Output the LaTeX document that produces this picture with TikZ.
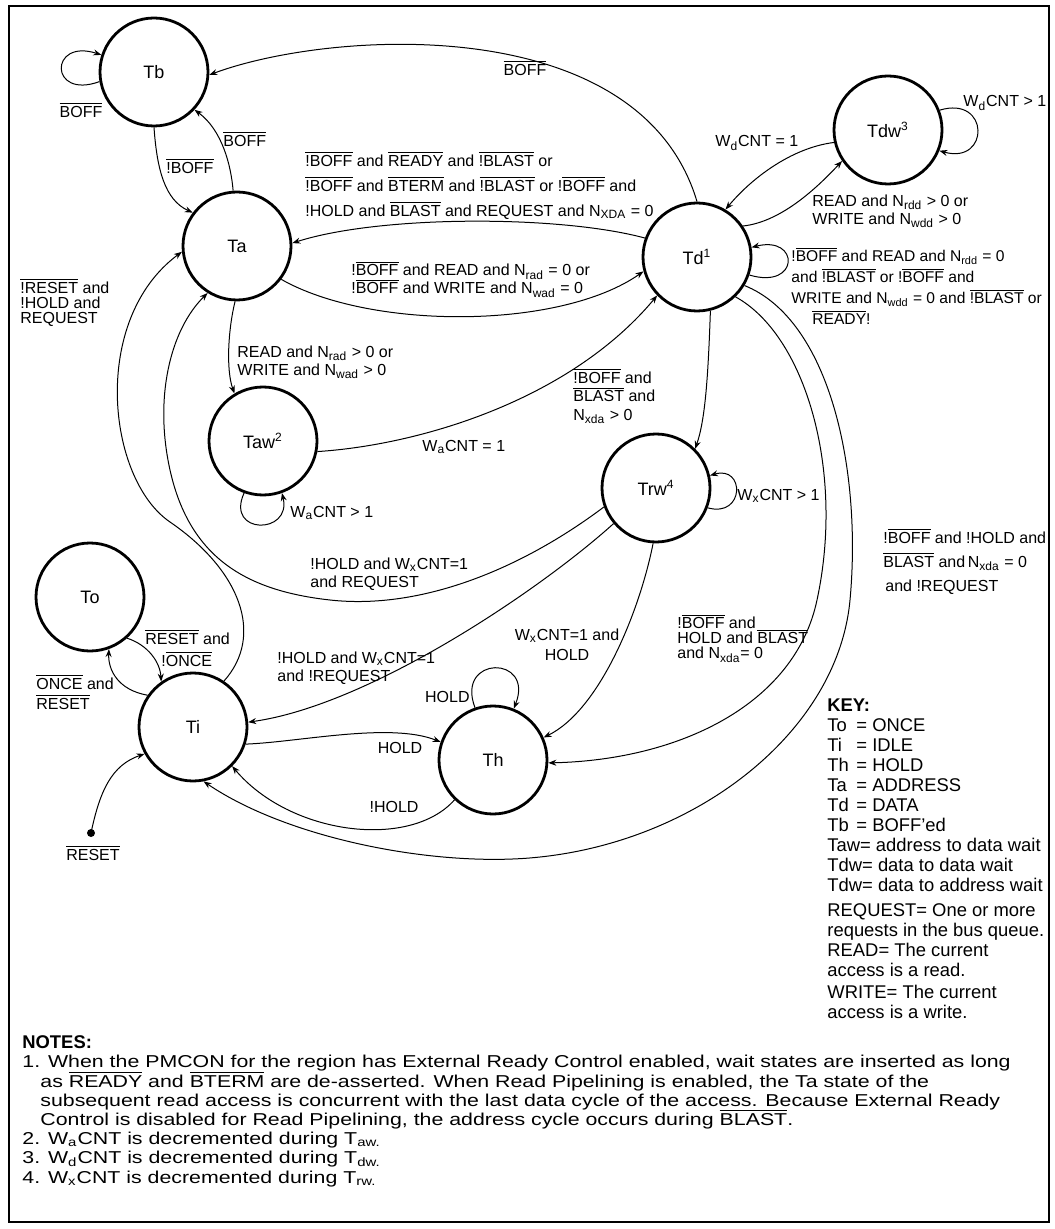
\documentclass[tikz,border=0pt]{standalone}
\usepackage{fontspec}
\setmainfont{Liberation Sans}
\newfontfamily\widefont{Liberation Sans}[FakeStretch=1.24]
\usetikzlibrary{arrows.meta}
\lineskiplimit=-20pt
\newcommand{\ol}[1]{$\overline{\mbox{#1}}$}
\newcommand{\kb}[1]{\makebox[14.5pt][l]{#1}}

\begin{document}
\begin{tikzpicture}[x=0.5pt, y=-0.5pt,
    state/.style={circle, draw, line width=1.4pt, minimum size=54pt, inner sep=0pt, font=\fontsize{9}{10}\selectfont},
    tr/.style={-{Stealth[length=4pt,width=3pt]}, line width=0.5pt},
    lbl/.style={inner sep=0pt, align=left, font=\fontsize{8}{9}\selectfont}]
    \useasboundingbox (0,0) rectangle (1054,1229);
    \draw[line width=1pt] (9,6) rectangle (1049,1222);

    % States
    \node[state] (Tb) at (154,72) {Tb};
    \node[state] (Ta) at (237,246) {Ta};
    \node[state] (Td) at (697,257) {Td\textsuperscript{1}};
    \node[state] (Tdw) at (888,130) {Tdw\textsuperscript{3}};
    \node[state] (Taw) at (263,441) {Taw\textsuperscript{2}};
    \node[state] (Trw) at (656,488) {Trw\textsuperscript{4}};
    \node[state] (To) at (90,597) {To};
    \node[state] (Ti) at (193,727) {Ti};
    \node[state] (Th) at (493,760) {Th};
    \coordinate (rst) at (91,833);
    \fill (rst) circle[radius=2pt];

    % Transitions around Tb and Ta
    \draw[tr] (Tb.190) .. controls (49,100) and (49,38) .. (Tb.162);
    \draw[tr] (Td.90) .. controls (640,10) and (330,30) .. (Tb.-3);
    \draw[tr] (Tb.270) .. controls (157,170) and (165,200) .. (Ta.143);
    \draw[tr] (Ta.94) .. controls (231,165) and (222,130) .. (Tb.-43);
    \draw[tr] (Td.160) .. controls (560,215) and (380,215) .. (Ta.3);
    \draw[tr] (Ta.-37) .. controls (370,330) and (560,330) .. (Td.195);
    \draw[tr] (Ta.-92) .. controls (228,330) and (226,370) .. (Taw.121);
    \draw[tr] (Taw.250) .. controls (225,535) and (292,535) .. (Taw.290);
    \draw[tr] (Taw.-11) .. controls (420,445) and (570,400) .. (Td.224);

    % Transitions around Td
    \draw[tr] (Tdw.193) .. controls (790,148) and (750,180) .. (Td.59);
    \draw[tr] (Td.34) .. controls (780,222) and (815,190) .. (Tdw.214);
    \draw[tr] (Tdw.21) .. controls (990,95) and (990,165) .. (Tdw.-22);
    \draw[tr] (Td.-19) .. controls (800,290) and (800,235) .. (Td.10);
    \draw[tr] (Td.-76) .. controls (708,380) and (705,420) .. (Trw.45);
    \draw[tr] (Trw.-21) .. controls (745,518) and (745,465) .. (Trw.13);
    \draw[tr] (Td.-46) .. controls (805,335) and (845,470) .. (817,600)
        .. controls (795,704) and (680,760) .. (Th.-3);
    \draw[tr] (Td.-31) .. controls (830,320) and (862,470) .. (850,600)
        .. controls (838,730) and (700,840) .. (540,857)
        .. controls (440,868) and (290,840) .. (Ti.-79);

    % Transitions back to Ta, Ti and Th
    \draw[tr] (Trw.200) .. controls (520,570) and (420,610) .. (330,600)
        .. controls (249,591) and (190,560) .. (170,470)
        .. controls (154,398) and (170,330) .. (Ta.238);
    \draw[tr] (Ti.56) .. controls (265,635) and (240,570) .. (170,522)
        .. controls (107,479) and (90,320) .. (Ta.186);
    \draw[tr] (Trw.220) .. controls (540,590) and (370,705) .. (Ti.5);
    \draw[tr] (Trw.267) .. controls (640,610) and (600,710) .. (Th.24);
    \draw[tr] (Ti.-18) .. controls (300,742) and (390,722) .. (Th.161);
    \draw[tr] (Th.109) .. controls (455,655) and (535,655) .. (Th.68);
    \draw[tr] (Th.226) .. controls (410,850) and (290,835) .. (Ti.-45);
    \draw[tr] (Ti.145) .. controls (118,690) and (108,670) .. (To.-70);
    \draw[tr] (To.-48) .. controls (148,645) and (160,662) .. (Ti.125);
    \draw[tr] (rst) .. controls (100,790) and (112,765) .. (Ti.209);

    % Labels
    \node[lbl] (lTbLoop) at (81,110) {\ol{BOFF}};
    \node[lbl] (lTdTb) at (525,68) {\ol{BOFF}};
    \node[lbl, anchor=west] (lTbTa) at (166,166) {\ol{!BOFF}};
    \node[lbl, anchor=west] (lTaTb) at (223,139) {\ol{BOFF}};
    \node[lbl, anchor=west, font=\fontsize{8}{12.5}\selectfont] (lTdTa) at (305,185)
        {\ol{!BOFF} and \ol{READY} and \ol{!BLAST} or\\
         \ol{!BOFF} and \ol{BTERM} and \ol{!BLAST} or !\ol{BOFF} and\\
         !HOLD and \ol{BLAST} and REQUEST and N\textsubscript{XDA} = 0};
    \node[lbl, anchor=west] (lTaTd) at (351,279)
        {!\ol{BOFF} and READ and N\textsubscript{rad} = 0 or\\
         !\ol{BOFF} and WRITE and N\textsubscript{wad} = 0};
    \node[lbl, anchor=west] (lTdwTd) at (715,143) {W\textsubscript{d}CNT = 1};
    \node[lbl, anchor=west] (lTdTdw) at (812,211)
        {READ and N\textsubscript{rdd} > 0 or\\ WRITE and N\textsubscript{wdd} > 0};
    \node[lbl, anchor=west] (lTdwLoop) at (963,103) {W\textsubscript{d}CNT > 1};
    \node[lbl, anchor=west, font=\fontsize{7.8}{10.5}\selectfont] (lTdLoop) at (791,286)
        {!\ol{BOFF} and READ and N\textsubscript{rdd} = 0\\
         and \ol{!BLAST} or !\ol{BOFF} and\\
         WRITE and N\textsubscript{wdd} = 0 and \ol{!BLAST} or\\
         \hspace*{10.5pt}\ol{READY}!};
    \node[lbl, anchor=west, font=\fontsize{8}{9.3}\selectfont] (lTdTrw) at (573,396)
        {\ol{!BOFF} and\\ \ol{BLAST} and\\ N\textsubscript{xda} > 0};
    \node[lbl, anchor=west] (lTawTd) at (422,447) {W\textsubscript{a}CNT = 1};
    \node[lbl, anchor=west] (lTaTaw) at (237,362)
        {READ and N\textsubscript{rad} > 0 or\\ WRITE and N\textsubscript{wad} > 0};
    \node[lbl, anchor=west] (lTawLoop) at (290,513) {W\textsubscript{a}CNT > 1};
    \node[lbl, anchor=west] (lTrwLoop) at (737,496) {W\textsubscript{x}CNT > 1};
    \node[lbl, anchor=west] (lTrwTa) at (310,574)
        {!HOLD and W\textsubscript{x}CNT=1\\ and REQUEST};
    \node[lbl, anchor=west, font=\fontsize{8}{7.5}\selectfont] (lTiTa) at (20,302)
        {\ol{!RESET} and\\ !HOLD and\\ REQUEST};
    \node[lbl, anchor=west] (lTrwTi) at (277,668)
        {!HOLD and W\textsubscript{x}CNT=1\\ and !REQUEST};
    \node[lbl, align=center, font=\fontsize{8}{10}\selectfont] (lTrwTh) at (567,645)
        {W\textsubscript{x}CNT=1 and\\ HOLD};
    \node[lbl, anchor=west, font=\fontsize{8}{7.5}\selectfont] (lTdTh) at (677,638)
        {!\ol{BOFF} and\\ HOLD and \ol{BLAST}\\ and N\textsubscript{xda}= 0};
    \node[lbl, anchor=west, font=\fontsize{8}{12}\selectfont] (lTdTi) at (883,561)
        {!\ol{BOFF} and !HOLD and\\ \ol{BLAST} and\,N\textsubscript{xda} = 0\\
         \hspace*{1pt}and !REQUEST};
    \node[lbl] (lTiTh) at (400,748) {HOLD};
    \node[lbl, anchor=east] (lThLoop) at (470,697) {HOLD};
    \node[lbl] (lThTi) at (394,807) {!HOLD};
    \node[lbl, anchor=west, font=\fontsize{8}{10}\selectfont] (lTiTo) at (36,692)
        {\ol{ONCE} and\\ \ol{RESET}};
    \node[lbl, anchor=west, font=\fontsize{8}{11}\selectfont] (lToTi) at (145,648)
        {\ol{RESET} and\\ \hspace*{8pt}!\ol{ONCE}};
    \node[lbl] (lRst) at (93,853) {\ol{RESET}};

    % Key
    \node[lbl, anchor=north west, font=\fontsize{9.2}{10}\selectfont] (key) at (827,698)
        {\textbf{KEY:}\\
         \kb{To}= ONCE\\ \kb{Ti}= IDLE\\ \kb{Th}= HOLD\\ \kb{Ta}= ADDRESS\\
         \kb{Td}= DATA\\ \kb{Tb}= BOFF'ed\\
         Taw= address to data wait\\ Tdw= data to data wait\\ Tdw= data to address wait\\[2.5pt]
         REQUEST= One or more\\ requests in the bus queue.\\ READ= The current\\
         access is a read.\\[1pt] WRITE= The current\\ access is a write.};

    % Notes
    \node[lbl, anchor=west, font=\fontsize{9.2}{10}\selectfont\bfseries] (notes) at (22,1042) {NOTES:};
    \node[lbl, anchor=north west, font=\widefont\fontsize{8.6}{9.6}\selectfont] (notetext) at (22,1055)
        {1. When the PMCON for the region has External Ready Control enabled, wait states are inserted as long\\
         \hspace*{9pt}as \ol{READY} and \ol{BTERM} are de-asserted. When Read Pipelining is enabled, the Ta state of the\\
         \hspace*{9pt}subsequent read access is concurrent with the last data cycle of the access. Because External Ready\\
         \hspace*{9pt}Control is disabled for Read Pipelining, the address cycle occurs during \ol{BLAST}.\\
         2. W\textsubscript{a}CNT is decremented during T\textsubscript{aw.}\\
         3. W\textsubscript{d}CNT is decremented during T\textsubscript{dw.}\\
         4. W\textsubscript{x}CNT is decremented during T\textsubscript{rw.}};
\end{tikzpicture}
\end{document}
